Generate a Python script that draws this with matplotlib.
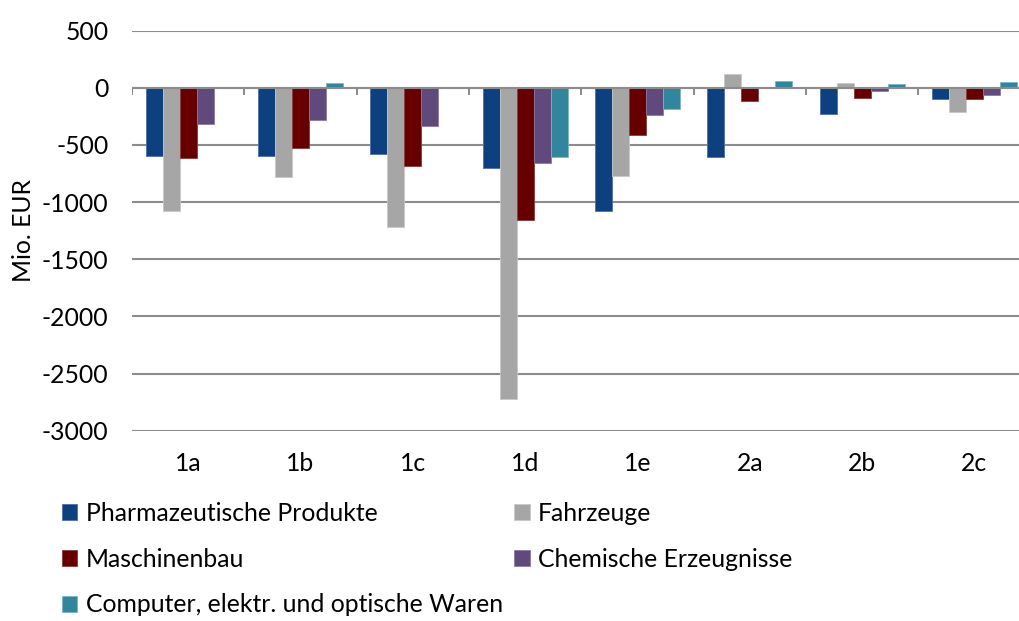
import matplotlib
matplotlib.use("Agg")
import matplotlib.pyplot as plt
import numpy as np

categories = ['1a', '1b', '1c', '1d', '1e', '2a', '2b', '2c']
series_names = ['Pharmazeutische Produkte', 'Fahrzeuge', 'Maschinenbau',
                'Chemische Erzeugnisse', 'Computer, elektr. und optische Waren']
pharma = [-595, -595, -580, -700, -1080, -605, -225, -95]
fahrzeuge = [-1075, -780, -1220, -2725, -770, 120, 45, -215]
maschinen = [-610, -525, -680, -1155, -410, -115, -90, -95]
chemische = [-315, -285, -330, -660, -240, 0, -30, -65]
computer = [0, 40, 8, -605, -185, 60, 30, 50]
yticks = [500, 0, -500, -1000, -1500, -2000, -2500, -3000]

colors = ['#0E3F7E', '#A6A6A6', '#660000', '#604A7B', '#31859C']
edges = ['#4F6FA8', '#C8C8C8', '#8A3A3A', '#8B79A3', '#7FB3C4']

plt.rcParams['font.family'] = ['Lato', 'DejaVu Sans']
FS = 17.8

W, H = 1019, 621
fig = plt.figure(figsize=(W / 100, H / 100), dpi=100)
left, right, top, bottom = 132, 1030.5, 30.7, 430.7
ax = fig.add_axes([left / W, 1 - bottom / H, (right - left) / W, (bottom - top) / H])

data = [pharma, fahrzeuge, maschinen, chemische, computer]
x = np.arange(len(categories))
bw = 0.1514
handles = []
for i, (vals, c, e) in enumerate(zip(data, colors, edges)):
    b = ax.bar(x + (i - 2) * bw, vals, width=bw, color=c, edgecolor=e,
               linewidth=0.6, zorder=3, label=series_names[i])
    handles.append(b)

ax.set_xlim(-0.5, len(categories) - 0.5)
ax.set_ylim(min(yticks), max(yticks))
ax.set_yticks(yticks)
ax.set_yticklabels([str(v) for v in yticks], fontsize=FS)
ax.yaxis.grid(True, color='#8C8C8C', linewidth=1.5, zorder=1)
ax.set_axisbelow(True)
ax.tick_params(axis='y', length=0, pad=17)
ax.set_xticks(x)
ax.set_xticklabels(categories, fontsize=FS)
ax.tick_params(axis='x', length=0, pad=15)
for s in ax.spines.values():
    s.set_visible(False)

# zero axis with category-boundary tick marks
ax.axhline(0, color='#8C8C8C', linewidth=1.5, zorder=4)
bounds = np.arange(len(categories) + 1) - 0.5
ax.vlines(bounds, -62, 0, color='#8C8C8C', linewidth=1.5, zorder=4)

ax.set_ylabel('Mio. EUR', fontsize=FS, labelpad=5)

order = [0, 2, 4, 1, 3]
fig.legend([handles[k] for k in order], [series_names[k] for k in order],
           ncol=2, loc='upper left', bbox_to_anchor=(62 / W, 1 - 502 / H),
           frameon=False, fontsize=FS, handlelength=0.62, handleheight=0.62,
           handletextpad=0.35, columnspacing=0.45, labelspacing=0.92,
           borderaxespad=0, borderpad=0)

fig.savefig('out.png', dpi=100)
